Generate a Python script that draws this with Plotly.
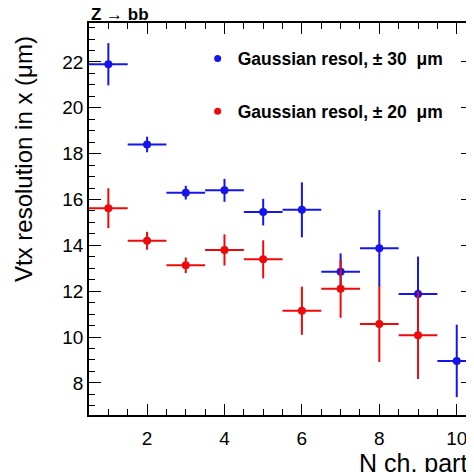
import plotly.graph_objects as go

# Data
x_blue = [1, 2, 3, 4, 5, 6, 7, 8, 9, 10]
y_blue = [21.9, 18.4, 16.3, 16.4, 15.45, 15.55, 12.85, 13.87, 11.88, 8.96]
e_blue = [0.92, 0.34, 0.30, 0.50, 0.58, 1.20, 0.80, 1.67, 1.63, 1.58]

x_red = [1, 2, 3, 4, 5, 6, 7, 8, 9]
y_red = [15.62, 14.2, 13.13, 13.8, 13.39, 11.15, 12.11, 10.57, 10.08]
e_red = [0.87, 0.39, 0.34, 0.68, 0.83, 1.05, 1.27, 1.66, 1.91]

labels = ["Gaussian resol, \u00b1 30  \u03bcm", "Gaussian resol, \u00b1 20  \u03bcm"]

bin_half = 0.5
blue = "rgb(20,20,235)"
red = "rgb(238,10,10)"
FONT = "Liberation Sans, Arial, Helvetica, sans-serif"

fig = go.Figure()
for xs, ys, es, col in [(x_blue, y_blue, e_blue, blue), (x_red, y_red, e_red, red)]:
    fig.add_trace(go.Scatter(
        x=xs, y=ys, mode="markers", showlegend=False,
        marker=dict(color=col, size=8),
        error_x=dict(type="constant", value=bin_half, color=col, thickness=2, width=0),
        error_y=dict(type="data", array=es, color=col, thickness=2, width=0),
    ))
# legend entries (small markers as in the reference)
for lab, col, grp in [(labels[0], blue, "a"), (labels[1], red, "b")]:
    fig.add_trace(go.Scatter(
        x=[None], y=[None], mode="markers", name=lab, legendgroup=grp,
        marker=dict(color=col, size=7),
    ))

axis_common = dict(
    showline=True, linecolor="black", linewidth=1.5, mirror="ticks",
    ticks="inside", tickcolor="black", tickwidth=1.2,
    showgrid=False, zeroline=False, automargin=False,
    tickfont=dict(family=FONT, size=19, color="black"),
)

fig.update_xaxes(
    range=[0.5, 10.42], tick0=0, dtick=2, ticklen=11, ticklabelstandoff=5,
    minor=dict(dtick=0.5, tick0=0, ticklen=6, ticks="inside", tickcolor="black", tickwidth=1.2, showgrid=False),
    **axis_common,
)
fig.update_yaxes(
    range=[6.6, 23.7], tick0=0, dtick=2, ticklen=12,
    minor=dict(dtick=0.5, tick0=0, ticklen=6, ticks="inside", tickcolor="black", tickwidth=1.2, showgrid=False),
    ticklabelstandoff=0,
    **axis_common,
)

fig.update_layout(
    width=466, height=464,
    margin=dict(l=81, r=1, t=15, b=57),
    paper_bgcolor="white", plot_bgcolor="white",
    showlegend=True,
    legend=dict(
        x=0.283, y=0.955, xanchor="left", yanchor="top",
        font=dict(family=FONT, size=17.5, color="black", weight="bold"),
        tracegroupgap=27, bgcolor="rgba(0,0,0,0)", itemsizing="trace",
    ),
    annotations=[
        dict(text="<b>Z \u2192 bb</b>", xref="paper", yref="paper", x=0.0, y=1.0,
             xanchor="left", yanchor="bottom", yshift=-3, showarrow=False,
             font=dict(family=FONT, size=17, color="black")),
        dict(text="Vtx resolution in x (\u03bcm)", xref="paper", yref="paper",
             x=0, xshift=-66, y=0.653, xanchor="center", yanchor="middle", textangle=-90,
             showarrow=False, font=dict(family=FONT, size=24, color="black")),
        dict(text="N ch. part", xref="paper", yref="paper", x=1.0, xshift=-4, y=0,
             yshift=-32, xanchor="right", yanchor="top", showarrow=False,
             font=dict(family=FONT, size=25, color="black")),
    ],
)

fig.write_html("out.html")
